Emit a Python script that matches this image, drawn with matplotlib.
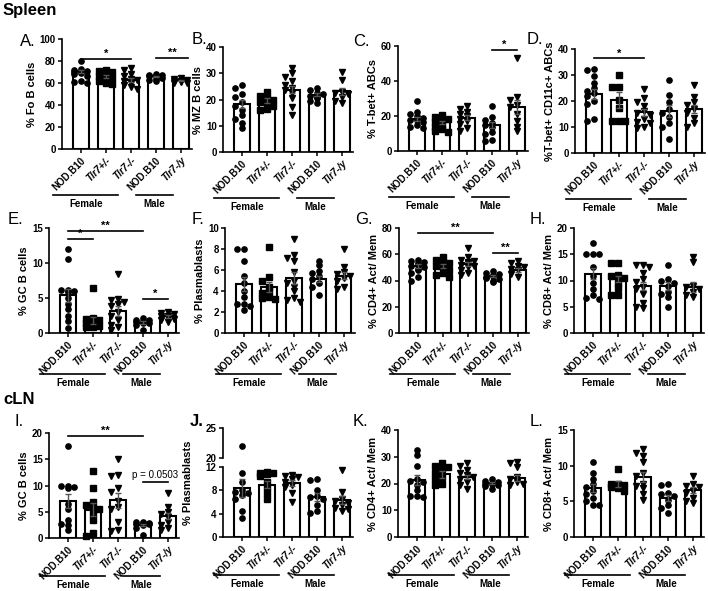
import numpy as np
import matplotlib
matplotlib.use("Agg")
import matplotlib.pyplot as plt

plt.rcParams['font.family'] = ['Liberation Sans', 'DejaVu Sans']
plt.rcParams['font.weight'] = 'bold'

groups = ['NOD.B10', 'Tlr7+/-', 'Tlr7-/-', 'NOD.B10', 'Tlr7-/y']
italic = [False, True, True, False, True]
markers = ['o', 's', 'v', 'o', 'v']

# A. % Fo B cells
a_pts = [[80, 73, 72, 71, 70, 70, 69, 68, 66, 62, 61, 60],
         [72, 71, 70, 68, 66, 65, 64, 62, 60, 59],
         [74, 72, 68, 66, 64, 63, 62, 60, 58, 56, 55],
         [68, 67, 67, 66, 66, 65, 64, 63, 62],
         [65, 64, 63, 62, 62, 61, 60, 60]]
a_mean = [70.5, 66, 63, 66, 62.5]
a_sem = [1.6, 1.4, 1.8, 0.7, 0.6]

# B. % MZ B cells
b_pts = [[25.5, 24.5, 22, 21, 19, 17.5, 16, 14, 12.5, 11, 9],
         [23, 21.5, 20.5, 20, 19, 18.5, 17.5, 16.5, 16],
         [32, 30, 28.5, 27, 25.5, 24.5, 23.5, 22.5, 20.5, 17, 14],
         [24.5, 23.5, 22.5, 22, 21.5, 21, 20.5, 19.5, 18.5],
         [30.5, 27.5, 23, 22.5, 22, 21, 19.5, 18.5]]
b_mean = [18.2, 19.6, 23.8, 21.9, 23.2]
b_sem = [1.6, 0.8, 1.5, 0.6, 1.3]

# C. % T-bet+ ABCs
c_pts = [[28.5, 22.5, 21, 20, 19, 18, 17.5, 16.5, 15, 14, 13],
         [20.5, 19.5, 18.5, 17.5, 16.5, 15, 14, 12.5, 11.5, 11],
         [26, 24, 22.5, 21, 20, 18.5, 17, 15.5, 13, 11.5],
         [26, 19.5, 17.5, 16, 15, 13.5, 11, 9.5, 6.5, 6],
         [53, 31, 29, 26.5, 25, 21, 17, 14, 11.5]]
c_mean = [18.2, 16.3, 19.0, 14.8, 25.2]
c_sem = [1.3, 1.1, 1.4, 1.9, 3.9]

# D. % T-bet+ CD11c+ ABCs
d_pts = [[32.5, 32, 29.5, 27, 25, 24, 23, 22, 20, 19, 13, 12.5],
         [30, 25.5, 25.5, 20.5, 17.5, 12.5, 12.5, 12.5],
         [24.5, 21, 19.5, 18, 16, 15.5, 14.5, 13, 12, 11.5, 10, 9.5],
         [28, 22.5, 19.5, 17, 15.5, 14, 11.5, 10, 5.5],
         [26, 21.5, 19.5, 18.5, 17, 15.5, 13.5, 11.5, 10]]
d_mean = [22.6, 20.4, 15.7, 16.0, 16.9]
d_sem = [1.9, 2.9, 1.3, 2.3, 1.6]

# E. % GC B cells (spleen)
e_pts = [[12, 10.6, 6.2, 6.1, 6.0, 5.8, 5.0, 4.2, 3.5, 2.5, 1.7, 0.7],
         [6.5, 2.2, 2.0, 1.8, 1.6, 1.4, 1.2, 1.0, 0.9, 0.8],
         [8.4, 4.8, 4.7, 4.5, 4.2, 3.8, 3.0, 2.4, 1.8, 1.2, 0.8, 0.5],
         [2.1, 1.9, 1.8, 1.7, 1.6, 1.5, 1.4, 1.2, 0.4],
         [3.0, 2.9, 2.7, 2.5, 2.4, 2.2, 2.0, 1.8, 1.6]]
e_mean = [5.4, 1.8, 3.2, 1.5, 2.4]
e_sem = [0.95, 0.5, 0.7, 0.15, 0.2]

# F. % Plasmablasts (spleen)
f_pts = [[8.0, 8.0, 6.9, 5.4, 4.8, 4.0, 3.4, 2.8, 2.8, 2.6, 2.2],
         [8.2, 5.3, 5.0, 4.4, 4.0, 3.8, 3.4, 3.3, 3.2],
         [9.0, 7.4, 7.1, 6.9, 5.8, 5.0, 4.8, 4.4, 4.0, 3.3, 3.1, 3.0],
         [6.9, 6.5, 5.9, 5.7, 5.4, 5.1, 4.8, 4.4, 3.6],
         [8.0, 6.3, 5.8, 5.6, 5.4, 5.2, 5.0, 4.4, 4.2]]
f_mean = [4.67, 4.38, 5.24, 5.17, 5.46]
f_sem = [0.65, 0.45, 0.55, 0.3, 0.35]

# G. % CD4+ Act/ Mem (spleen)
g_pts = [[56, 55, 54, 53, 52, 51, 50, 49, 48, 46, 43, 40],
         [58, 56, 54, 53, 51, 50, 48, 46, 44, 43],
         [65, 58, 56, 55, 54, 53, 52, 51, 50, 48, 46, 44],
         [47, 46, 45, 44, 43.5, 43, 42, 41, 40, 39],
         [55, 53, 51, 50, 49, 48, 45, 43]]
g_mean = [51, 50.8, 52.8, 43.5, 48.2]
g_sem = [1.2, 1.5, 1.4, 0.8, 1.5]

# H. % CD8+ Act/ Mem (spleen)
h_pts = [[17.2, 15.1, 15.1, 15.1, 12.5, 10.8, 9.5, 8.3, 7.2, 6.7, 6.5],
         [13.4, 13.3, 11.0, 10.8, 10.5, 9.5, 8.5, 7.2, 7.2],
         [13.0, 13.0, 12.5, 11.5, 10.2, 9.8, 8.8, 8.3, 7.5, 5.8, 5.0, 4.8],
         [12.9, 10.2, 10.0, 9.5, 9.0, 7.9, 7.5, 6.8, 5.0],
         [14.5, 13.5, 9.0, 8.8, 8.3, 7.8, 7.2, 6.8]]
h_mean = [11.3, 10.3, 9.0, 8.9, 8.8]
h_sem = [1.0, 0.6, 0.8, 0.8, 0.9]

# I. % GC B cells (cLN)
i_pts = [[17.5, 10.0, 10.0, 9.7, 9.5, 6.5, 5.5, 3.5, 2.7, 2.5, 1.5],
         [12.8, 9.6, 6.8, 6.3, 5.8, 5.5, 4.5, 3.5, 1.0, 0.3],
         [15.0, 12.0, 11.8, 9.5, 8.8, 7.0, 6.0, 5.5, 3.0, 1.5, 1.3],
         [3.0, 3.0, 2.9, 2.8, 2.7, 2.6, 2.5, 2.0, 0.5],
         [8.5, 6.0, 5.0, 4.5, 4.0, 3.0, 2.5, 2.0, 1.5]]
i_mean = [7.1, 5.4, 7.2, 2.55, 4.15]
i_sem = [1.3, 1.3, 1.4, 0.2, 0.6]

# J. % Plasmablasts (cLN), broken axis
j_pts = [[22, 11.0, 9.4, 8.0, 7.8, 7.5, 7.2, 6.5, 4.5, 3.3],
         [11.2, 11.0, 11.0, 10.8, 10.5, 9.5, 8.5, 7.5, 6.5],
         [10.6, 10.5, 10.3, 10.0, 9.5, 9.0, 8.5, 7.5, 6.0],
         [10.0, 9.8, 8.0, 7.0, 6.8, 6.5, 5.5, 4.5, 4.2],
         [11.5, 7.8, 6.5, 6.2, 5.8, 5.5, 5.0, 4.8, 4.5]]
j_mean = [8.4, 9.0, 9.25, 6.86, 6.3]
j_sem = [1.5, 0.6, 0.45, 0.7, 0.7]

# K. % CD4+ Act/ Mem (cLN)
k_pts = [[32.5, 30.5, 26.5, 21.5, 21.0, 20.5, 19.5, 17.5, 15.5, 15.5, 15.0],
         [27.5, 26.5, 26, 25.5, 24, 22.5, 21.5, 20, 19.5],
         [27.5, 26.5, 25, 24, 23, 22.5, 21.5, 20.5, 19.5, 18],
         [21.5, 21, 20.5, 20.2, 20, 19.8, 19.5, 19, 18],
         [28, 27.5, 26, 22.5, 21.5, 20.5, 20, 19.5]]
k_mean = [21.3, 23.4, 22.5, 20.2, 22.1]
k_sem = [1.8, 1.2, 0.8, 0.4, 1.0]

# L. % CD8+ Act/ Mem (cLN)
l_pts = [[10.5, 9.0, 8.2, 7.5, 7.0, 6.5, 6.0, 5.5, 5.0, 4.5, 4.5],
         [9.5, 7.5, 7.4, 7.3, 7.2, 7.0, 6.8, 6.5],
         [12.3, 11.8, 11.3, 10.5, 9.0, 8.5, 7.5, 7.2, 6.8, 6.0, 5.2],
         [7.5, 7.3, 6.2, 6.0, 5.8, 5.2, 4.5, 4.0, 3.3],
         [8.6, 7.5, 7.2, 7.0, 6.5, 6.2, 5.5, 5.0, 4.8]]
l_mean = [6.9, 7.4, 8.45, 5.5, 6.57]
l_sem = [0.55, 0.4, 0.7, 0.45, 0.45]

W, H = 708, 591
fig = plt.figure(figsize=(W / 100, H / 100), dpi=100)
XL = (-0.75, 4.45)
AXW = 130
MS = 3.8


def make_ax(left, top, bottom):
    return fig.add_axes([left / W, 1 - bottom / H, AXW / W, (bottom - top) / H])


def swarm(vals, ppu_y, ppu_x=25.0, size=4.2, step=0.13):
    vals = np.asarray(vals, float)
    xs = np.zeros(len(vals))
    cands = [0.0]
    for k in range(1, 4):
        cands += [-k * step, k * step]
    placed = []
    for idx in np.argsort(-vals):
        y = vals[idx] * ppu_y
        best, best_hits = 0.0, None
        for c in cands:
            hits = sum(1 for px, py in placed
                       if abs(c * ppu_x - px) < size and abs(y - py) < size)
            if best_hits is None or hits < best_hits:
                best, best_hits = c, hits
            if hits == 0:
                break
        xs[idx] = best
        placed.append((best * ppu_x, y))
    return xs


def style_y(ax, yticks):
    ax.set_yticks(yticks)
    ax.tick_params(axis='y', labelsize=7, length=3, width=1.1, pad=1.5)
    for lab in ax.get_yticklabels():
        lab.set_fontweight('bold')
    ax.spines['top'].set_visible(False)
    ax.spines['right'].set_visible(False)
    ax.spines['left'].set_linewidth(1.2)
    ax.spines['bottom'].set_linewidth(1.2)


def draw_data(ax, pts, mean, sem, ppu_y):
    x = np.arange(5)
    ax.bar(x, mean, width=0.62, color='white', edgecolor='black', linewidth=1.5, zorder=1)
    for i in range(5):
        off = swarm(pts[i], ppu_y)
        ax.plot(i + off, pts[i], linestyle='none', marker=markers[i], markersize=MS,
                color='black', zorder=3, clip_on=False)
    ax.errorbar(x, mean, yerr=sem, fmt='none', ecolor='#555555', elinewidth=1,
                capsize=2.5, capthick=1, zorder=4)


def style_x(ax, h_px, line_off, text_off):
    ax.set_xlim(*XL)
    ax.set_xticks(np.arange(5))
    ax.set_xticklabels(groups, rotation=45, ha='right', rotation_mode='anchor',
                       fontsize=7, fontweight='bold')
    for lab, it in zip(ax.get_xticklabels(), italic):
        if it:
            lab.set_fontstyle('italic')
    ax.tick_params(axis='x', length=3, width=1.1, pad=1.5)
    tr = ax.get_xaxis_transform()
    yl = -line_off / h_px
    yt = -text_off / h_px
    ax.plot([-1.1, 1.5], [yl, yl], color='black', lw=1.2, transform=tr, clip_on=False)
    ax.plot([2.2, 3.7], [yl, yl], color='black', lw=1.2, transform=tr, clip_on=False)
    ax.text(0.2, yt, 'Female', transform=tr, ha='center', va='center', fontsize=7,
            fontweight='bold')
    ax.text(2.95, yt, 'Male', transform=tr, ha='center', va='center', fontsize=7,
            fontweight='bold')


def draw_sig(ax, sigs):
    for i, j, y, txt in sigs:
        ax.plot([i, j], [y, y], color='black', lw=1.2, clip_on=False, zorder=5)
        if txt.startswith('p'):
            ax.annotate(txt, ((i + j) / 2, y), xytext=(0, 2), textcoords='offset points',
                        ha='center', va='bottom', fontsize=7, fontweight='normal')
        else:
            ax.annotate(txt, ((i + j) / 2, y), xytext=(0, 0), textcoords='offset points',
                        ha='center', va='bottom', fontsize=8, fontweight='bold')


# group-line offsets below each row (pixels): row 1, row 2, row 3
ROW_OFF = {1: (46, 55), 2: (41, 50), 3: (38, 47)}

panels = [
    # letter, row, left, top, bottom, pts, mean, sem, ymax, yticks, ylabel, sigs, letter pos
    ('A.', 1, 62, 39, 149, a_pts, a_mean, a_sem, 100, [0, 20, 40, 60, 80, 100],
     '% Fo B cells', [(0, 2, 82, '*'), (3, 4.3, 83, '**')], (20, 42)),
    ('B.', 1, 223, 47, 152, b_pts, b_mean, b_sem, 40, [0, 10, 20, 30, 40],
     '% MZ B cells', [], (192, 40)),
    ('C.', 1, 398, 46, 151, c_pts, c_mean, c_sem, 60, [0, 20, 40, 60],
     '% T-bet+ ABCs', [(3, 4, 58, '*')], (353, 42)),
    ('D.', 1, 575, 49, 153, d_pts, d_mean, d_sem, 40, [0, 10, 20, 30, 40],
     '%T-bet+ CD11c+ ABCs', [(0, 2, 36.4, '*')], (527, 40)),
    ('E.', 2, 49, 228, 333, e_pts, e_mean, e_sem, 15, [0, 5, 10, 15],
     '% GC B cells', [(0, 1, 13.4, '*'), (0, 3, 14.6, '**'), (3, 4, 4.9, '*')], (8, 219)),
    ('F.', 2, 225, 228, 333, f_pts, f_mean, f_sem, 10, [0, 2, 4, 6, 8, 10],
     '% Plasmablasts', [], (192, 219)),
    ('G.', 2, 399, 228, 333, g_pts, g_mean, g_sem, 80, [0, 20, 40, 60, 80],
     '% CD4+ Act/ Mem', [(0, 3, 76, '**'), (3, 4, 61, '**')], (355, 219)),
    ('H.', 2, 574, 228, 333, h_pts, h_mean, h_sem, 20, [0, 5, 10, 15, 20],
     '% CD8+ Act/ Mem', [], (530, 219)),
    ('I.', 3, 49, 433, 538, i_pts, i_mean, i_sem, 20, [0, 5, 10, 15, 20],
     '% GC B cells', [(0, 3, 19.4, '**'), (3, 4, 10.6, 'p = 0.0503')], (15, 421)),
    ('K.', 3, 398, 430, 537, k_pts, k_mean, k_sem, 40, [0, 10, 20, 30, 40],
     '% CD4+ Act/ Mem', [], (353, 421)),
    ('L.', 3, 574, 430, 537, l_pts, l_mean, l_sem, 15, [0, 5, 10, 15],
     '% CD8+ Act/ Mem', [], (530, 421)),
]

for letter, row, left, top, bottom, pts, mean, sem, ymax, yticks, ylabel, sigs, lpos in panels:
    ax = make_ax(left, top, bottom)
    h_px = bottom - top
    ax.set_ylim(0, ymax)
    draw_data(ax, pts, mean, sem, h_px / ymax)
    style_y(ax, yticks)
    style_x(ax, h_px, *ROW_OFF[row])
    draw_sig(ax, sigs)
    ax.set_ylabel(ylabel, fontsize=8, fontweight='bold', labelpad=2)
    fig.text(lpos[0] / W, 1 - lpos[1] / H, letter, fontsize=12, fontweight='normal',
             ha='left', va='center')

# J. broken axis
jl, jtop, jbrk_hi, jbrk_lo, jbot = 223, 428, 458, 467, 537
ax_lo = make_ax(jl, jbrk_lo, jbot)
ax_hi = make_ax(jl, jtop, jbrk_hi)
lo_max, hi_min, hi_max = 12, 20, 25
ax_lo.set_ylim(0, lo_max)
ax_hi.set_ylim(hi_min, hi_max)
draw_data(ax_lo, [[v for v in p if v <= lo_max] for p in j_pts], j_mean, j_sem,
          (jbot - jbrk_lo) / lo_max)
for i in range(5):
    hi_vals = [v for v in j_pts[i] if v >= hi_min]
    if hi_vals:
        ax_hi.plot([i] * len(hi_vals), hi_vals, linestyle='none', marker=markers[i],
                   markersize=MS, color='black', zorder=3)
style_y(ax_lo, [0, 4, 8, 12])
style_x(ax_lo, jbot - jbrk_lo, *ROW_OFF[3])
style_y(ax_hi, [20, 25])
ax_hi.set_xlim(*XL)
ax_hi.spines['bottom'].set_visible(False)
ax_hi.set_xticks([])
ax_hi.patch.set_alpha(0)
fig.text((jl - 35) / W, 1 - ((jtop + jbot) / 2) / H, '% Plasmablasts', rotation=90,
         ha='center', va='center', fontsize=8, fontweight='bold')
fig.text(190 / W, 1 - 421 / H, 'J.', fontsize=12, ha='left', va='center')

fig.text(3 / W, 1 - 10 / H, 'Spleen', fontsize=12, fontweight='bold', ha='left', va='center')
fig.text(3 / W, 1 - 400 / H, 'cLN', fontsize=12, fontweight='bold', ha='left', va='center')

fig.savefig('out.png', dpi=100)
